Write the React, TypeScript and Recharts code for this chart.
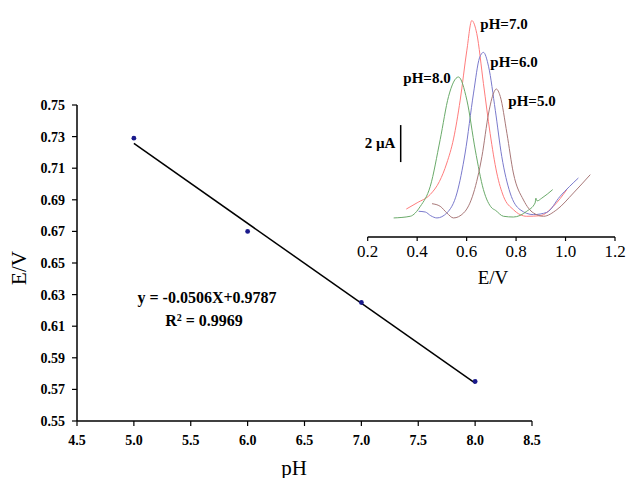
import React from "react";
import {
  ComposedChart,
  LineChart,
  Line,
  Scatter,
  XAxis,
  YAxis,
  ReferenceLine,
} from "recharts";

// main plot: peak potential vs pH
const phValues = [5.0, 6.0, 7.0, 8.0];
const peakPotentials = [0.729, 0.67, 0.625, 0.575];
const fitLine = [
  { x: 5.0, y: 0.7257 },
  { x: 8.0, y: 0.5739 },
];
const xTicks = [4.5, 5.0, 5.5, 6.0, 6.5, 7.0, 7.5, 8.0, 8.5];
const yTicks = [0.55, 0.57, 0.59, 0.61, 0.63, 0.65, 0.67, 0.69, 0.71, 0.73, 0.75];

// inset voltammograms (E/V, current in µA above baseline)
const curvePH7 = [
  [0.356, 1.51], [0.4, 1.85], [0.453, 2.3], [0.49, 3.0], [0.52, 4.0], [0.547, 5.3],
  [0.574, 7.4], [0.601, 10.1], [0.621, 11.7], [0.641, 11.0], [0.668, 8.3], [0.695, 5.6],
  [0.722, 3.46], [0.749, 2.2], [0.789, 1.48], [0.843, 1.12], [0.897, 1.15], [0.951, 1.66],
  [1.005, 2.56],
];
const curvePH6 = [
  [0.406, 1.39], [0.433, 1.35], [0.455, 1.15], [0.48, 1.03], [0.52, 1.3], [0.561, 2.38],
  [0.594, 4.54], [0.628, 7.78], [0.652, 9.68], [0.668, 9.98], [0.689, 9.2], [0.716, 6.85],
  [0.742, 4.36], [0.776, 2.38], [0.816, 1.48], [0.87, 1.21], [0.924, 1.33], [0.978, 2.2],
  [1.052, 3.19],
];
const curvePH8 = [
  [0.305, 1.03], [0.372, 1.12], [0.413, 1.66], [0.453, 2.74], [0.493, 5.26], [0.527, 7.6],
  [0.567, 8.65], [0.601, 7.4], [0.635, 4.7], [0.668, 2.56], [0.702, 1.57], [0.716, 1.45],
  [0.749, 1.12], [0.789, 1.08], [0.843, 1.39], [0.877, 1.84], [0.88, 2.1], [0.885, 1.95],
  [0.904, 2.1], [0.948, 2.56],
];
const curvePH5 = [
  [0.46, 1.8], [0.493, 1.66], [0.52, 1.3], [0.547, 1.03], [0.588, 1.3], [0.628, 2.38],
  [0.662, 4.36], [0.689, 6.7], [0.709, 7.78], [0.72, 8.0], [0.736, 7.6], [0.763, 5.6],
  [0.789, 3.46], [0.83, 2.0], [0.87, 1.3], [0.911, 1.12], [0.965, 1.48], [1.032, 2.38],
  [1.1, 3.37],
];
const insetTicks = [0.2, 0.4, 0.6, 0.8, 1.0, 1.2];

const FONT = "'Liberation Serif', 'Times New Roman', serif";

const toPoints = (pts: number[][]) => pts.map(([e, i]) => ({ e, i }));
const scatterData = phValues.map((x, i) => ({ x, y: peakPotentials[i] }));

const insetSeries = [
  { key: "ph7", data: toPoints(curvePH7), color: "#ff7c7c" },
  { key: "ph6", data: toPoints(curvePH6), color: "#7a7acc" },
  { key: "ph8", data: toPoints(curvePH8), color: "#6aaa6a" },
  { key: "ph5", data: toPoints(curvePH5), color: "#a87878" },
];

function Txt({ x, y, size, bold, children }: any) {
  return (
    <div
      style={{
        position: "absolute",
        left: x,
        top: y,
        transform: "translate(-50%, -50%)",
        fontFamily: FONT,
        fontSize: size,
        fontWeight: bold ? "bold" : "normal",
        lineHeight: 1,
        whiteSpace: "nowrap",
        color: "#000",
      }}
    >
      {children}
    </div>
  );
}

export default function App() {
  return (
    <div
      style={{
        position: "absolute",
        left: 0,
        top: 0,
        width: 629,
        height: 478,
        background: "#fff",
        fontFamily: FONT,
      }}
    >
      <ComposedChart
        width={629}
        height={478}
        margin={{ top: 105, right: 97, bottom: 27, left: 30 }}
      >
        <XAxis
          type="number"
          dataKey="x"
          domain={[4.5, 8.5]}
          ticks={xTicks}
          tickFormatter={(v: number) => v.toFixed(1)}
          tick={{ fontSize: 14, fontWeight: "bold", fill: "#000", fontFamily: FONT }}
          tickSize={5}
          tickMargin={9}
          height={30}
          axisLine={{ stroke: "#000", strokeWidth: 1.5 }}
          tickLine={{ stroke: "#000", strokeWidth: 1.2 }}
          allowDataOverflow
        />
        <YAxis
          type="number"
          dataKey="y"
          domain={[0.55, 0.75]}
          ticks={yTicks}
          tickFormatter={(v: number) => v.toFixed(2)}
          tick={{ fontSize: 14, fontWeight: "bold", fill: "#000", fontFamily: FONT }}
          tickSize={5}
          tickMargin={7}
          width={47}
          axisLine={{ stroke: "#000", strokeWidth: 1.5 }}
          tickLine={{ stroke: "#000", strokeWidth: 1.2 }}
          allowDataOverflow
        />
        <Line
          data={fitLine}
          dataKey="y"
          type="linear"
          stroke="#000"
          strokeWidth={1.5}
          dot={false}
          isAnimationActive={false}
        />
        <Scatter
          data={scatterData}
          dataKey="y"
          fill="#1a1a8c"
          shape={(p: any) => <circle cx={p.cx} cy={p.cy} r={2.4} fill="#1a1a8c" />}
          isAnimationActive={false}
        />
      </ComposedChart>

      <div style={{ position: "absolute", left: 340, top: 0 }}>
        <LineChart
          width={289}
          height={290}
          margin={{ top: 15, right: 14, bottom: 13, left: 27.7 }}
        >
          <XAxis
            type="number"
            dataKey="e"
            domain={[0.2, 1.2]}
            ticks={insetTicks}
            tickFormatter={(v: number) => v.toFixed(1)}
            tick={{ fontSize: 17, fill: "#000", fontFamily: FONT }}
            tickSize={4}
            tickMargin={4}
            height={40}
            axisLine={{ stroke: "#000", strokeWidth: 1.5 }}
            tickLine={{ stroke: "#000", strokeWidth: 1.2 }}
            allowDataOverflow
          />
          <YAxis type="number" domain={[0, 12]} hide allowDataOverflow />
          <ReferenceLine
            segment={[
              { x: 0.3334, y: 4.05 },
              { x: 0.3334, y: 6.05 },
            ]}
            stroke="#000"
            strokeWidth={1.5}
          />
          {insetSeries.map((s) => (
            <Line
              key={s.key}
              data={s.data}
              dataKey="i"
              type="monotone"
              stroke={s.color}
              strokeWidth={1}
              dot={false}
              isAnimationActive={false}
            />
          ))}
        </LineChart>
      </div>

      <Txt x={19} y={268} size={21}>
        <span style={{ display: "inline-block", transform: "rotate(-90deg)" }}>E/V</span>
      </Txt>
      <Txt x={294} y={468} size={21}>pH</Txt>
      <Txt x={207} y={298} size={16} bold>y = -0.0506X+0.9787</Txt>
      <Txt x={204} y={321} size={16} bold>
        R<sup style={{ fontSize: 10, verticalAlign: "top", lineHeight: 1 }}>2</sup> = 0.9969
      </Txt>

      <Txt x={493} y={277} size={19}>E/V</Txt>
      <Txt x={504} y={24} size={15} bold>pH=7.0</Txt>
      <Txt x={514} y={62} size={15} bold>pH=6.0</Txt>
      <Txt x={427} y={78} size={15} bold>pH=8.0</Txt>
      <Txt x={532} y={101} size={15} bold>pH=5.0</Txt>
      <Txt x={380} y={143} size={15} bold>2 µA</Txt>
    </div>
  );
}
